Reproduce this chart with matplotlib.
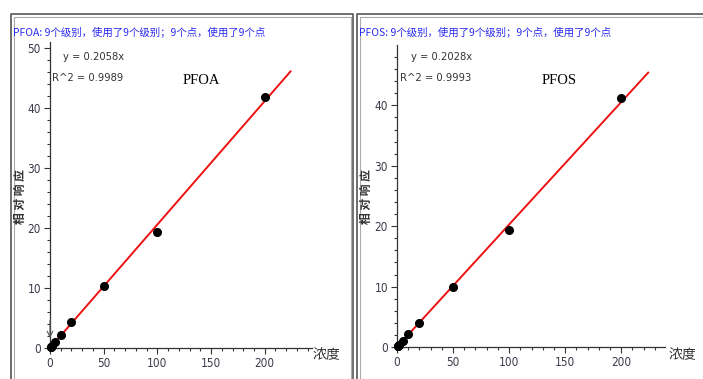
import matplotlib
matplotlib.use("Agg")
import matplotlib.pyplot as plt
from matplotlib.lines import Line2D
import numpy as np

plt.rcParams['font.family'] = ['Noto Sans CJK SC', 'DejaVu Sans']

conc = [0.5, 1, 2, 5, 10, 20, 50, 100, 200]
pfoa_resp = [0.1, 0.2, 0.4, 1.0, 2.1, 4.3, 10.3, 19.4, 41.9]
pfos_resp = [0.1, 0.2, 0.4, 1.0, 2.1, 4.0, 10.0, 19.4, 41.2]
pfoa_slope = 0.2058
pfos_slope = 0.2028
titles = ["PFOA: 9个级别，使用了9个级别；9个点，使用了9个点",
          "PFOS: 9个级别，使用了9个级别；9个点，使用了9个点"]
eq_texts = [["y = 0.2058x", "R^2 = 0.9989"], ["y = 0.2028x", "R^2 = 0.9993"]]
names = ["PFOA", "PFOS"]
x_ticks = [0, 50, 100, 150, 200]
y_ticks_left = [0, 10, 20, 30, 40, 50]
y_ticks_right = [0, 10, 20, 30, 40]
line_end = 224

W, H = 703, 379
fig = plt.figure(figsize=(W / 100, H / 100), dpi=100)

def fx(px):
    return px / W

def fy(py):
    return 1 - py / H

NARROW = dict(family='DejaVu Sans', stretch='condensed')

# panel frames
for (x0, x1) in [(11, 353), (357, 710)]:
    for off, col, lw in [(0, '#555555', 1.2), (2.5, '#aaaaaa', 0.8)]:
        xs = [fx(x0 + off), fx(x0 + off), fx(x1 - off), fx(x1 - off)]
        ys = [fy(H + 10), fy(14 + off), fy(14 + off), fy(H + 10)]
        fig.add_artist(Line2D(xs, ys, color=col, lw=lw, transform=fig.transFigure))

def setup(ax, resp, slope, yt, xmax, ymax):
    ax.set_xlim(0, xmax)
    ax.set_ylim(0, ymax)
    for s in ['top', 'right']:
        ax.spines[s].set_visible(False)
    for s in ['left', 'bottom']:
        ax.spines[s].set_color('#333333')
        ax.spines[s].set_linewidth(0.9)
    ax.set_xticks(x_ticks)
    ax.set_yticks(yt)
    ax.set_xticks(np.arange(0, xmax, 10), minor=True)
    ax.set_yticks(np.arange(0, ymax, 2), minor=True)
    ax.tick_params(axis='both', which='major', length=4, width=0.8,
                   color='#333333', labelsize=8.5, labelcolor='#3a3a4a', pad=2.5)
    ax.tick_params(axis='both', which='minor', length=2.5, width=0.8, color='#333333')
    ax.tick_params(axis='both', which='both', direction='out')
    for lab in ax.get_xticklabels() + ax.get_yticklabels():
        lab.set_fontfamily('DejaVu Sans')
        lab.set_fontstretch('condensed')
    xl = np.array([0, line_end])
    ax.plot(xl, slope * xl, color='#ee1111', lw=1.4, clip_on=False, zorder=2)
    ax.plot(conc, resp, 'o', color='black', ms=5.5, clip_on=False, zorder=3)
    ax.patch.set_alpha(0)

ax1 = fig.add_axes([fx(50), 1 - 348 / H, fx(262), 306 / H])
setup(ax1, pfoa_resp, pfoa_slope, y_ticks_left, 244, 51)
ax1.annotate('', xy=(0, 1.2), xytext=(0, 5.0),
             arrowprops=dict(arrowstyle='->', color='#555555', lw=0.8))

ax2 = fig.add_axes([fx(397), 1 - 347 / H, fx(268), 302 / H])
setup(ax2, pfos_resp, pfos_slope, y_ticks_right, 239, 50)

# texts
panel_px = [
    dict(title=(13, 32), eq=(63, 57), r2=(52, 78), name=(201, 80), ylab=(20, 197), xlab=(326, 355)),
    dict(title=(359, 32), eq=(411, 57), r2=(400, 78), name=(559, 80), ylab=(366, 197), xlab=(682, 355)),
]
for i, p in enumerate(panel_px):
    fig.text(fx(p['title'][0]), fy(p['title'][1]), titles[i], color='#2b2bf0',
             fontsize=7.5, ha='left', va='center', fontweight='medium')
    fig.text(fx(p['eq'][0]), fy(p['eq'][1]), eq_texts[i][0], color='#333333',
             fontsize=8, ha='left', va='center', **NARROW)
    fig.text(fx(p['r2'][0]), fy(p['r2'][1]), eq_texts[i][1], color='#333333',
             fontsize=8, ha='left', va='center', **NARROW)
    fig.text(fx(p['name'][0]), fy(p['name'][1]), names[i], color='black',
             fontsize=10.5, ha='center', va='center', family='Liberation Serif')
    fig.text(fx(p['ylab'][0]), fy(p['ylab'][1]), "相 对 响 应", color='#333333',
             fontsize=8.5, ha='center', va='center', rotation=90, fontweight='bold')
    fig.text(fx(p['xlab'][0]), fy(p['xlab'][1]), "浓度", color='#333333',
             fontsize=10, ha='center', va='center')

fig.savefig('out.png', dpi=100)
